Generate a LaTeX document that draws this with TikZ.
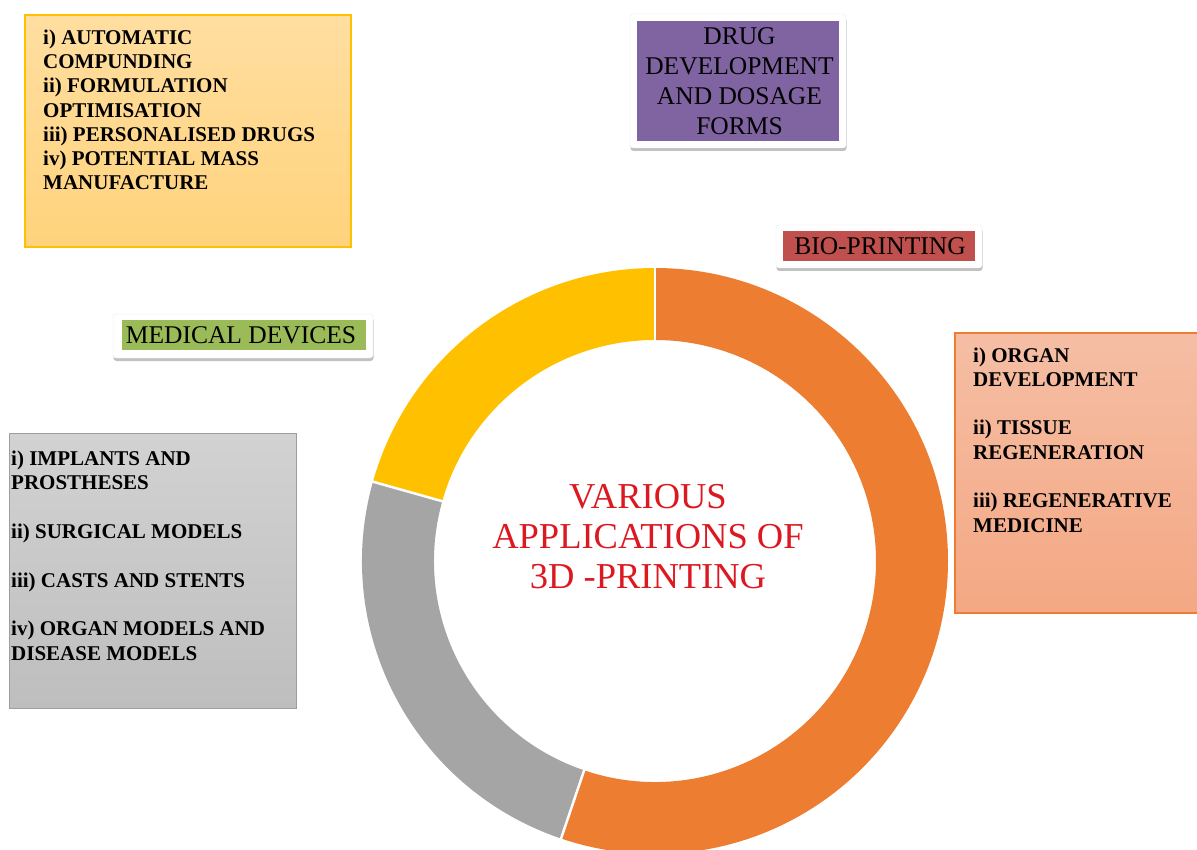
\documentclass[tikz,border=0pt]{standalone}
\usepackage{fontspec}
\setmainfont{Liberation Serif}
\usetikzlibrary{shadows}
\definecolor{segorange}{HTML}{ED7D31}
\definecolor{segyellow}{HTML}{FFC000}
\definecolor{seggrey}{HTML}{A5A5A5}
\definecolor{purplefill}{HTML}{8064A2}
\definecolor{redfill}{HTML}{C0504D}
\definecolor{greenfill}{HTML}{9BBB59}
\definecolor{titlered}{RGB}{220,24,32}
\definecolor{tlTop}{RGB}{255,222,160}
\definecolor{tlBot}{RGB}{255,211,124}
\definecolor{grTop}{RGB}{210,210,210}
\definecolor{grBot}{RGB}{190,190,190}
\definecolor{rtTop}{RGB}{245,190,164}
\definecolor{rtBot}{RGB}{244,168,132}
\newcommand\itemfnt{\fontsize{21}{24.3}\selectfont\bfseries}
\newcommand\labfnt{\fontsize{25.5}{30}\selectfont}
\newcommand\titlefnt{\fontsize{36.5}{40}\selectfont}
\begin{document}
\begin{tikzpicture}[x=1pt,y=-1pt,
  labelframe/.style={fill=white, draw=black!8, rounded corners=3pt,
    drop shadow={shadow xshift=0.5pt, shadow yshift=-3pt, opacity=0.35, fill=black!70}},
  colbox/.style={anchor=north west, inner sep=0pt, outer sep=0pt},
  itemtext/.style={anchor=base west, align=left, inner sep=0pt, font=\itemfnt, text=black},
  labtext/.style={anchor=base, align=center, inner sep=0pt, font=\labfnt, text=black},
  gap/.style={white, line width=2.5pt}
]
\useasboundingbox (0,0) rectangle (1197,850);
\clip (0,0) rectangle (1197,850);

% ---- donut ----
\begin{scope}[shift={(655,561)}, yscale=-1]
  \fill[segorange] (90:293) arc[start angle=90, end angle=-108.7, radius=293]
     -- (-108.7:221) arc[start angle=-108.7, end angle=90, radius=221] -- cycle;
  \fill[segyellow] (90:293) arc[start angle=90, end angle=164.3, radius=293]
     -- (164.3:221) arc[start angle=164.3, end angle=90, radius=221] -- cycle;
  \fill[seggrey] (164.3:293) arc[start angle=164.3, end angle=251.3, radius=293]
     -- (251.3:221) arc[start angle=251.3, end angle=164.3, radius=221] -- cycle;
  \draw[gap] (90:215) -- (90:300);
  \draw[gap] (164.3:215) -- (164.3:300);
  \draw[gap] (251.3:215) -- (251.3:300);
\end{scope}

% multi-line nodes: base anchor = baseline of the last line
\node[anchor=base, align=center, inner sep=0pt, font=\titlefnt, text=titlered] (title) at (648,588)
  {VARIOUS\\APPLICATIONS OF\\3D -PRINTING};

% ---- top-left box ----
\node[colbox, minimum width=326pt, minimum height=232pt, draw=segyellow, line width=1.2pt,
  top color=tlTop, bottom color=tlBot] (drugbox) at (25,15) {};
\node[itemtext] (drugtext) at (43,190)
  {i) AUTOMATIC\\COMPUNDING\\ii) FORMULATION\\OPTIMISATION\\iii) PERSONALISED DRUGS\\iv) POTENTIAL MASS\\MANUFACTURE};

% ---- purple label ----
\path[labelframe] (630,14) rectangle (846,148);
\node[colbox, minimum width=202pt, minimum height=120pt, fill=purplefill] (drugfill) at (637,21) {};
\node[labtext] (druglab) at (739.5,135) {DRUG\\DEVELOPMENT\\AND DOSAGE\\FORMS};

% ---- bio-printing label ----
\path[labelframe] (776,225) rectangle (982,268);
\node[colbox, minimum width=192pt, minimum height=30pt, fill=redfill] (biofill) at (783,231.5) {};
\node[labtext] (biolab) at (880,255) {BIO-PRINTING};

% ---- medical devices label ----
\path[labelframe] (113,314) rectangle (373,358);
\node[colbox, minimum width=244pt, minimum height=29.5pt, fill=greenfill] (medfill) at (122,320.5) {};
\node[labtext] (medlab) at (241,344) {MEDICAL DEVICES};

% ---- grey box ----
\node[colbox, minimum width=287pt, minimum height=275pt, draw=black!38, line width=0.8pt,
  top color=grTop, bottom color=grBot] (medbox) at (9,433) {};
\node[itemtext] (medtext) at (11,660)
  {i) IMPLANTS AND\\PROSTHESES\\[24.3pt]ii) SURGICAL MODELS\\[24.3pt]iii) CASTS AND STENTS\\[24.3pt]iv) ORGAN MODELS AND\\DISEASE MODELS};

% ---- right box ----
\node[colbox, minimum width=250pt, minimum height=280pt, draw=segorange, line width=1.2pt,
  top color=rtTop, bottom color=rtBot] (biobox) at (955,333) {};
\node[itemtext] (biotext) at (973,532)
  {i) ORGAN\\DEVELOPMENT\\[24.2pt]ii) TISSUE\\REGENERATION\\[24.2pt]iii) REGENERATIVE\\MEDICINE};

\end{tikzpicture}
\end{document}
